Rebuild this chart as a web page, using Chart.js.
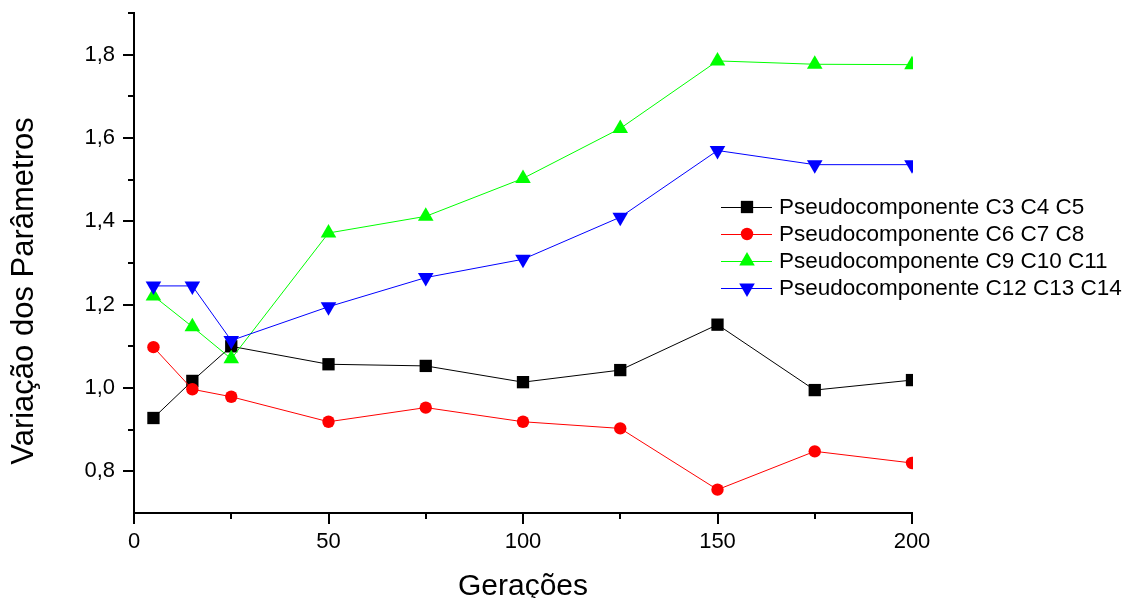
<!DOCTYPE html>
<html>
<head>
<meta charset="utf-8">
<script src="https://cdn.jsdelivr.net/npm/chart.js@4.4.1/dist/chart.umd.min.js"></script>
<style>
  html, body { margin: 0; padding: 0; background: #fff; }
  #wrap { width: 1134px; height: 598px; position: relative; }
</style>
</head>
<body>
<div id="wrap"><canvas id="grafico"></canvas></div>
<script>
// dados
const geracoes = [5, 15, 25, 50, 75, 100, 125, 150, 175, 200];
const c3c4c5 = [0.928, 1.017, 1.100, 1.057, 1.053, 1.014, 1.043, 1.152, 0.995, 1.019];
const c6c7c8 = [1.098, 0.997, 0.979, 0.919, 0.953, 0.919, 0.903, 0.756, 0.848, 0.820];
const c9c10c11 = [1.221, 1.147, 1.070, 1.372, 1.412, 1.503, 1.623, 1.785, 1.777, 1.776];
const c12c13c14 = [1.245, 1.245, 1.114, 1.195, 1.265, 1.309, 1.410, 1.570, 1.536, 1.536];

const nomes = ["Pseudocomponente C3 C4 C5", "Pseudocomponente C6 C7 C8", "Pseudocomponente C9 C10 C11", "Pseudocomponente C12 C13 C14"];

// ticks
const yMajor = [0.8, 1.0, 1.2, 1.4, 1.6, 1.8];
const yMinor = [0.9, 1.1, 1.3, 1.5, 1.7, 1.9];
const xMinor = [25, 75, 125, 175];
const tituloX = "Gerações";
const tituloY = "Variação dos Parâmetros";

const fonte = 'Arial, "Liberation Sans", sans-serif';

function pontos(ys) {
  return geracoes.map((x, i) => ({ x: x, y: ys[i] }));
}

const series = [
  { label: nomes[0], data: pontos(c3c4c5), cor: '#000000', estilo: 'rect', raio: 8.7, rot: 0, ordem: 4 },
  { label: nomes[1], data: pontos(c6c7c8), cor: '#ff0000', estilo: 'circle', raio: 6.2, rot: 0, ordem: 3 },
  { label: nomes[2], data: pontos(c9c10c11), cor: '#00ff00', estilo: 'triangle', raio: 9, rot: 0, ordem: 2 },
  { label: nomes[3], data: pontos(c12c13c14), cor: '#0000ff', estilo: 'triangle', raio: 9, rot: 180, ordem: 1 }
];

// ticks menores + títulos + legenda
const extras = {
  id: 'extras',
  afterDraw(chart) {
    const ctx = chart.ctx;
    const a = chart.chartArea;
    const sx = chart.scales.x, sy = chart.scales.y;
    ctx.save();
    ctx.strokeStyle = '#000';
    ctx.lineWidth = 2;
    ctx.beginPath();
    xMinor.forEach(v => {
      const px = Math.round(sx.getPixelForValue(v));
      ctx.moveTo(px, a.bottom);
      ctx.lineTo(px, a.bottom + 6);
    });
    yMinor.forEach(v => {
      const py = Math.round(sy.getPixelForValue(v));
      ctx.moveTo(a.left - 6, py);
      ctx.lineTo(a.left, py);
    });
    ctx.stroke();

    // títulos dos eixos
    ctx.fillStyle = '#000';
    ctx.font = '30px ' + fonte;
    ctx.textAlign = 'center';
    ctx.textBaseline = 'alphabetic';
    ctx.fillText(tituloX, (a.left + a.right) / 2, 595);
    ctx.save();
    ctx.translate(33, 291);
    ctx.rotate(-Math.PI / 2);
    ctx.font = '31px ' + fonte;
    ctx.fillText(tituloY, 0, 0);
    ctx.restore();

    // legenda
    const lx = 721, ly = 207, passo = 27;
    ctx.font = '22.5px ' + fonte;
    ctx.textAlign = 'left';
    ctx.textBaseline = 'middle';
    chart.data.datasets.forEach((ds, i) => {
      const y = ly + i * passo;
      ctx.strokeStyle = ds.borderColor;
      ctx.lineWidth = 1;
      ctx.beginPath();
      ctx.moveTo(lx, y + 0.5);
      ctx.lineTo(lx + 51, y + 0.5);
      ctx.stroke();
      ctx.fillStyle = ds.pointBackgroundColor;
      ctx.strokeStyle = ds.pointBorderColor;
      Chart.helpers.drawPoint(ctx, { pointStyle: ds.pointStyle, radius: ds.pointRadius, rotation: ds.pointRotation, borderWidth: 0 }, lx + 26, y);
      ctx.fillStyle = '#000';
      ctx.fillText(ds.label, lx + 58, y + 1);
    });
    ctx.restore();
  }
};

new Chart(document.getElementById('grafico'), {
  type: 'line',
  data: {
    datasets: series.map(s => ({
      label: s.label,
      data: s.data,
      borderColor: s.cor,
      borderWidth: 1,
      backgroundColor: s.cor,
      pointBackgroundColor: s.cor,
      pointBorderColor: s.cor,
      pointBorderWidth: 0,
      pointStyle: s.estilo,
      pointRadius: s.raio,
      pointRotation: s.rot,
      pointHoverRadius: s.raio,
      tension: 0,
      fill: false,
      order: s.ordem,
      clip: { left: false, top: false, right: 1, bottom: false }
    }))
  },
  options: {
    responsive: true,
    maintainAspectRatio: false,
    animation: false,
    events: [],
    layout: { padding: { left: 0, top: 13, right: 222, bottom: 0 } },
    plugins: {
      legend: { display: false },
      tooltip: { enabled: false }
    },
    scales: {
      x: {
        type: 'linear',
        min: 0,
        max: 200,
        border: { display: true, color: '#000', width: 2 },
        grid: { display: true, drawOnChartArea: false, drawTicks: true, tickLength: 11, color: '#000', lineWidth: 2 },
        ticks: { stepSize: 50, color: '#000', font: { family: fonte, size: 22 }, padding: 5, maxRotation: 0 },
        afterFit(scale) {
          scale.height = 85;
          scale.paddingLeft = 0;
          scale.paddingRight = 0;
        }
      },
      y: {
        type: 'linear',
        min: 0.7,
        max: 1.9,
        border: { display: true, color: '#000', width: 2 },
        grid: { display: true, drawOnChartArea: false, drawTicks: true, tickLength: 11, color: '#000', lineWidth: 2 },
        ticks: {
          color: '#000',
          font: { family: fonte, size: 22 },
          padding: 8,
          callback: v => v.toFixed(1).replace('.', ',')
        },
        afterBuildTicks(scale) { scale.ticks = yMajor.map(v => ({ value: v })); },
        afterFit(scale) {
          scale.width = 134;
          scale.paddingTop = 0;
          scale.paddingBottom = 0;
        }
      }
    }
  },
  plugins: [extras]
});
</script>
</body>
</html>
